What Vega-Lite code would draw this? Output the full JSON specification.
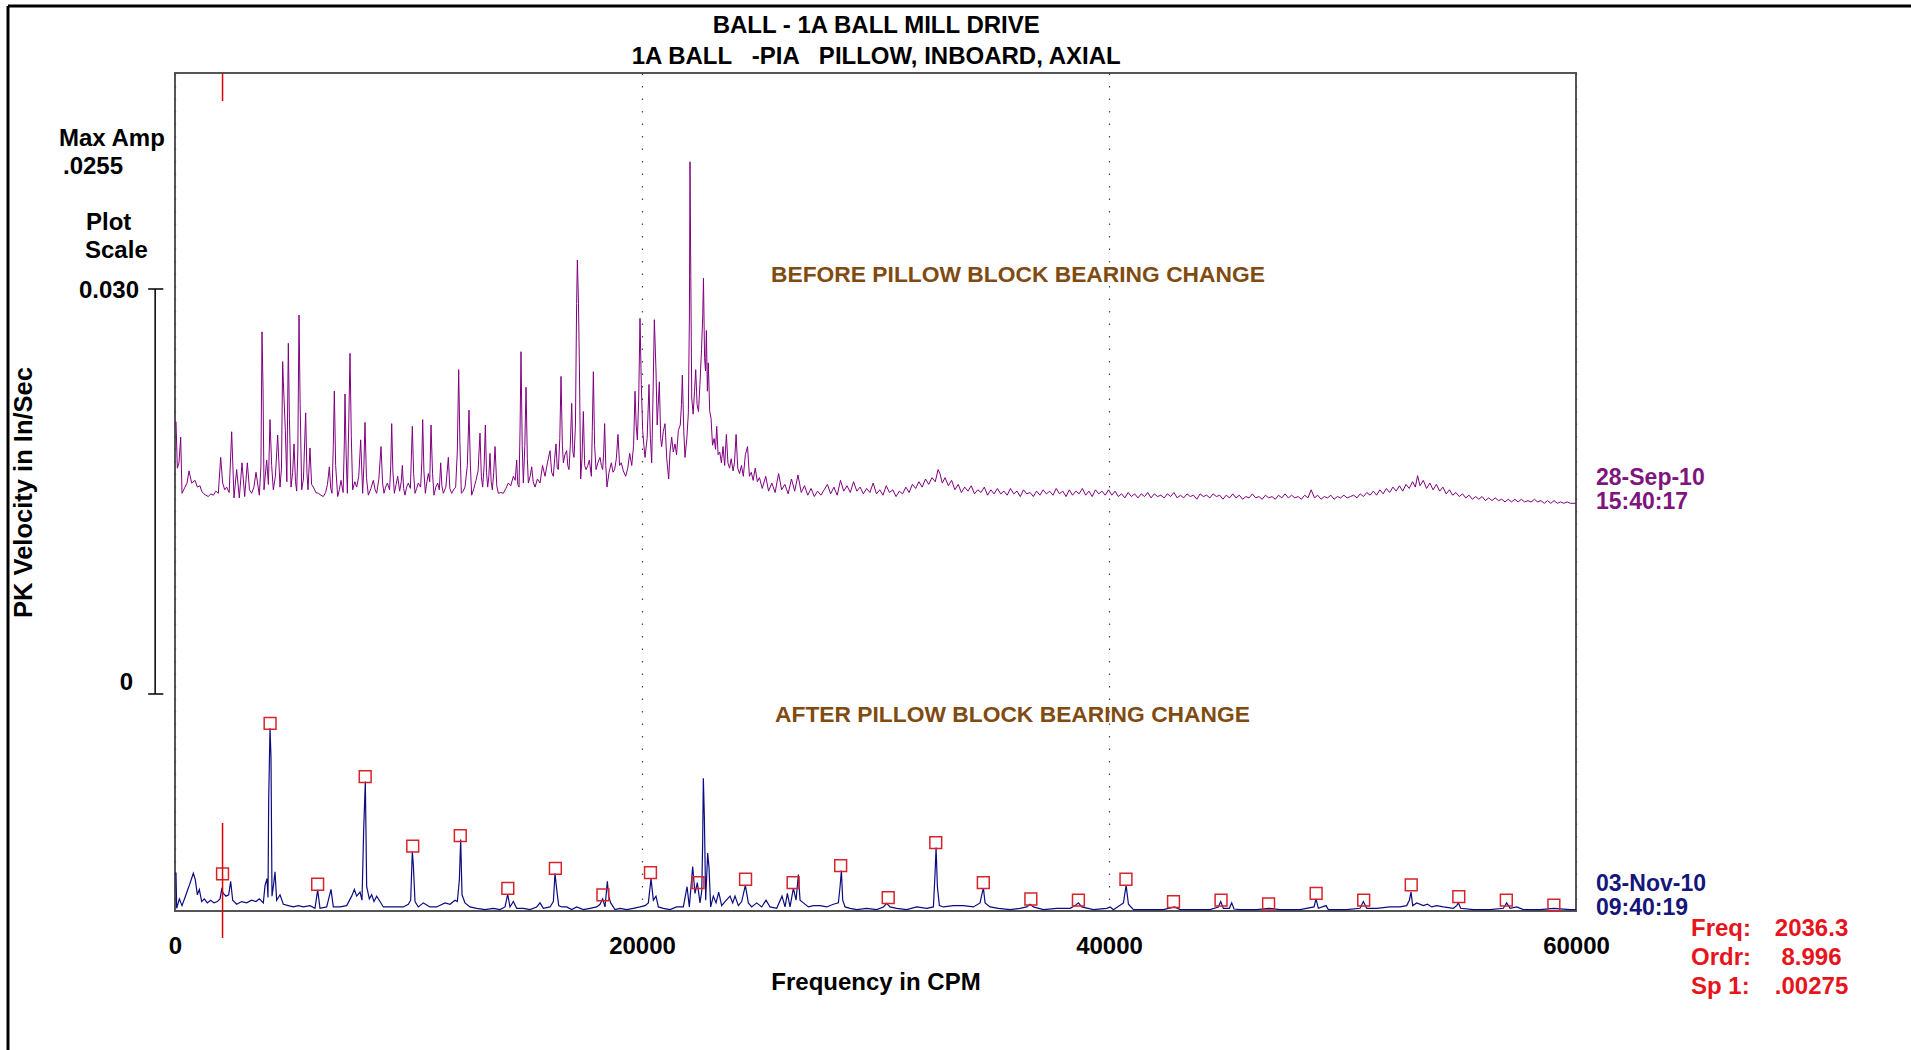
{
  "$schema": "https://vega.github.io/schema/vega-lite/v6.json",
  "width": 1401,
  "height": 838,
  "autosize": {"type": "none"},
  "padding": {"left": 175, "top": 73, "right": 335, "bottom": 139},
  "background": "white",
  "config": {
    "font": "Liberation Sans",
    "view": {"stroke": "#555555", "strokeWidth": 2},
    "text": {"font": "Liberation Sans", "fontSize": 24, "fontWeight": "bold", "baseline": "middle", "color": "black", "dy": 2},
    "axisX": {
      "grid": true,
      "gridDash": [1.5, 11],
      "gridColor": "#444444",
      "gridWidth": 1.2,
      "domain": false,
      "ticks": false,
      "tickCount": 3,
      "labelFont": "Liberation Sans",
      "labelFontSize": 24,
      "labelFontWeight": "bold",
      "labelColor": "black",
      "labelPadding": 35,
      "labelBaseline": "middle",
      "labelFlush": false,
      "labelOverlap": false,
      "titleFont": "Liberation Sans",
      "titleFontSize": 24,
      "titleFontWeight": "bold",
      "titleColor": "black",
      "titleY": 71,
      "titleBaseline": "middle"
    },
    "axisY": {"grid": false}
  },
  "datasets": {
    "before": [
      {"f": 0, "a": 0.0062}, {"f": 43, "a": 0.00625}, {"f": 100, "a": 0.0028}, {"f": 171, "a": 0.0032}, {"f": 243, "a": 0.0051}, {"f": 300, "a": 0.00094},
      {"f": 428, "a": 0.0014}, {"f": 514, "a": 0.0017}, {"f": 600, "a": 0.0026}, {"f": 714, "a": 0.0017}, {"f": 857, "a": 0.0019}, {"f": 960, "a": 0.0014},
      {"f": 1071, "a": 0.0015}, {"f": 1140, "a": 0.0011}, {"f": 1213, "a": 0.00094}, {"f": 1320, "a": 0.0008}, {"f": 1428, "a": 0.0007}, {"f": 1530, "a": 0.0009},
      {"f": 1642, "a": 0.0008}, {"f": 1750, "a": 0.0011}, {"f": 1856, "a": 0.00094}, {"f": 1956, "a": 0.0036}, {"f": 2041, "a": 0.0017}, {"f": 2130, "a": 0.0012},
      {"f": 2213, "a": 0.0014}, {"f": 2320, "a": 0.001}, {"f": 2427, "a": 0.0055}, {"f": 2527, "a": 0.0006}, {"f": 2641, "a": 0.0027}, {"f": 2755, "a": 0.0006},
      {"f": 2870, "a": 0.0032}, {"f": 2984, "a": 0.0007}, {"f": 3098, "a": 0.0032}, {"f": 3190, "a": 0.0012}, {"f": 3283, "a": 0.00094}, {"f": 3380, "a": 0.0014},
      {"f": 3469, "a": 0.0025}, {"f": 3612, "a": 0.0008}, {"f": 3680, "a": 0.0029}, {"f": 3726, "a": 0.0129}, {"f": 3770, "a": 0.0088}, {"f": 3812, "a": 0.0012},
      {"f": 3926, "a": 0.0034}, {"f": 4000, "a": 0.0016}, {"f": 4069, "a": 0.0064}, {"f": 4140, "a": 0.003}, {"f": 4211, "a": 0.0012}, {"f": 4300, "a": 0.0022},
      {"f": 4397, "a": 0.00526}, {"f": 4497, "a": 0.0014}, {"f": 4560, "a": 0.0028}, {"f": 4611, "a": 0.0107}, {"f": 4640, "a": 0.0092}, {"f": 4725, "a": 0.0056},
      {"f": 4790, "a": 0.0018}, {"f": 4854, "a": 0.01205}, {"f": 4900, "a": 0.0065}, {"f": 4968, "a": 0.0014}, {"f": 5040, "a": 0.0025}, {"f": 5097, "a": 0.0046},
      {"f": 5160, "a": 0.0018}, {"f": 5211, "a": 0.0011}, {"f": 5260, "a": 0.004}, {"f": 5311, "a": 0.01415}, {"f": 5360, "a": 0.0075}, {"f": 5425, "a": 0.0012},
      {"f": 5500, "a": 0.002}, {"f": 5596, "a": 0.0069}, {"f": 5650, "a": 0.0025}, {"f": 5696, "a": 0.0012}, {"f": 5782, "a": 0.0043}, {"f": 5850, "a": 0.0016},
      {"f": 5925, "a": 0.0014}, {"f": 6030, "a": 0.001}, {"f": 6139, "a": 0.00094}, {"f": 6250, "a": 0.0008}, {"f": 6353, "a": 0.0007}, {"f": 6450, "a": 0.001},
      {"f": 6530, "a": 0.0016}, {"f": 6610, "a": 0.0029}, {"f": 6670, "a": 0.0013}, {"f": 6724, "a": 0.00094}, {"f": 6780, "a": 0.0045}, {"f": 6824, "a": 0.0085},
      {"f": 6880, "a": 0.003}, {"f": 6967, "a": 0.0007}, {"f": 7040, "a": 0.0012}, {"f": 7110, "a": 0.0019}, {"f": 7200, "a": 0.001}, {"f": 7250, "a": 0.0045},
      {"f": 7281, "a": 0.0083}, {"f": 7330, "a": 0.0038}, {"f": 7381, "a": 0.00094}, {"f": 7440, "a": 0.006}, {"f": 7495, "a": 0.0113}, {"f": 7550, "a": 0.0052},
      {"f": 7609, "a": 0.0012}, {"f": 7700, "a": 0.0018}, {"f": 7781, "a": 0.0014}, {"f": 7870, "a": 0.0022}, {"f": 7952, "a": 0.0049}, {"f": 8037, "a": 0.00094},
      {"f": 8090, "a": 0.003}, {"f": 8137, "a": 0.0062}, {"f": 8200, "a": 0.0021}, {"f": 8280, "a": 0.0008}, {"f": 8390, "a": 0.0013}, {"f": 8494, "a": 0.0019},
      {"f": 8570, "a": 0.0012}, {"f": 8637, "a": 0.00094}, {"f": 8730, "a": 0.002}, {"f": 8823, "a": 0.0044}, {"f": 8890, "a": 0.0017}, {"f": 8951, "a": 0.00094},
      {"f": 9020, "a": 0.0014}, {"f": 9094, "a": 0.0017}, {"f": 9190, "a": 0.0012}, {"f": 9240, "a": 0.003}, {"f": 9280, "a": 0.0061}, {"f": 9330, "a": 0.0026},
      {"f": 9394, "a": 0.00094}, {"f": 9470, "a": 0.0016}, {"f": 9537, "a": 0.0022}, {"f": 9620, "a": 0.0011}, {"f": 9690, "a": 0.0018}, {"f": 9736, "a": 0.003},
      {"f": 9790, "a": 0.0013}, {"f": 9850, "a": 0.0008}, {"f": 9920, "a": 0.0014}, {"f": 9993, "a": 0.0017}, {"f": 10080, "a": 0.0013}, {"f": 10164, "a": 0.0059},
      {"f": 10220, "a": 0.0024}, {"f": 10279, "a": 0.00094}, {"f": 10350, "a": 0.0013}, {"f": 10421, "a": 0.0017}, {"f": 10520, "a": 0.0014}, {"f": 10570, "a": 0.0032},
      {"f": 10607, "a": 0.0064}, {"f": 10660, "a": 0.0026}, {"f": 10721, "a": 0.00094}, {"f": 10790, "a": 0.0018}, {"f": 10850, "a": 0.0024}, {"f": 10910, "a": 0.0018},
      {"f": 10964, "a": 0.006}, {"f": 11030, "a": 0.0024}, {"f": 11092, "a": 0.0008}, {"f": 11170, "a": 0.0014}, {"f": 11249, "a": 0.0017}, {"f": 11320, "a": 0.0012},
      {"f": 11378, "a": 0.0032}, {"f": 11430, "a": 0.0015}, {"f": 11492, "a": 0.00094}, {"f": 11600, "a": 0.0014}, {"f": 11706, "a": 0.0036}, {"f": 11770, "a": 0.0013},
      {"f": 11849, "a": 0.00094}, {"f": 11930, "a": 0.0012}, {"f": 12020, "a": 0.0014}, {"f": 12090, "a": 0.004}, {"f": 12149, "a": 0.0101}, {"f": 12200, "a": 0.0048},
      {"f": 12263, "a": 0.00094}, {"f": 12340, "a": 0.0011}, {"f": 12420, "a": 0.0014}, {"f": 12520, "a": 0.003}, {"f": 12591, "a": 0.0071}, {"f": 12650, "a": 0.003},
      {"f": 12705, "a": 0.0008}, {"f": 12800, "a": 0.0013}, {"f": 12891, "a": 0.0019}, {"f": 12980, "a": 0.0026}, {"f": 13062, "a": 0.0054}, {"f": 13120, "a": 0.0022},
      {"f": 13176, "a": 0.0014}, {"f": 13240, "a": 0.003}, {"f": 13291, "a": 0.006}, {"f": 13340, "a": 0.0025}, {"f": 13391, "a": 0.0014}, {"f": 13440, "a": 0.0022},
      {"f": 13491, "a": 0.0039}, {"f": 13540, "a": 0.0018}, {"f": 13591, "a": 0.0012}, {"f": 13650, "a": 0.0025}, {"f": 13706, "a": 0.0044}, {"f": 13780, "a": 0.0015},
      {"f": 13848, "a": 0.00094}, {"f": 13950, "a": 0.001}, {"f": 14062, "a": 0.00094}, {"f": 14170, "a": 0.0013}, {"f": 14276, "a": 0.0017}, {"f": 14380, "a": 0.0015},
      {"f": 14490, "a": 0.0022}, {"f": 14570, "a": 0.0019}, {"f": 14633, "a": 0.0034}, {"f": 14680, "a": 0.0016}, {"f": 14733, "a": 0.0014}, {"f": 14780, "a": 0.006},
      {"f": 14818, "a": 0.01143}, {"f": 14870, "a": 0.0045}, {"f": 14918, "a": 0.0017}, {"f": 14980, "a": 0.0044}, {"f": 15033, "a": 0.0088}, {"f": 15090, "a": 0.0035},
      {"f": 15133, "a": 0.0017}, {"f": 15210, "a": 0.0022}, {"f": 15276, "a": 0.0029}, {"f": 15340, "a": 0.0018}, {"f": 15421, "a": 0.0014}, {"f": 15520, "a": 0.002},
      {"f": 15633, "a": 0.0017}, {"f": 15740, "a": 0.003}, {"f": 15846, "a": 0.0022}, {"f": 15950, "a": 0.0032}, {"f": 16061, "a": 0.0041}, {"f": 16130, "a": 0.0025},
      {"f": 16203, "a": 0.0022}, {"f": 16260, "a": 0.0035}, {"f": 16317, "a": 0.0046}, {"f": 16370, "a": 0.0028}, {"f": 16417, "a": 0.0027}, {"f": 16480, "a": 0.005},
      {"f": 16532, "a": 0.0096}, {"f": 16590, "a": 0.0045}, {"f": 16632, "a": 0.0032}, {"f": 16700, "a": 0.0038}, {"f": 16774, "a": 0.0041}, {"f": 16820, "a": 0.003},
      {"f": 16874, "a": 0.0027}, {"f": 16930, "a": 0.0045}, {"f": 16989, "a": 0.0076}, {"f": 17040, "a": 0.004}, {"f": 17089, "a": 0.0036}, {"f": 17150, "a": 0.006},
      {"f": 17200, "a": 0.015}, {"f": 17232, "a": 0.01822}, {"f": 17280, "a": 0.015}, {"f": 17317, "a": 0.0106}, {"f": 17374, "a": 0.002}, {"f": 17430, "a": 0.0035},
      {"f": 17488, "a": 0.007}, {"f": 17545, "a": 0.003}, {"f": 17602, "a": 0.0027}, {"f": 17680, "a": 0.003}, {"f": 17745, "a": 0.0034}, {"f": 17831, "a": 0.0022},
      {"f": 17870, "a": 0.0055}, {"f": 17917, "a": 0.00995}, {"f": 17970, "a": 0.0045}, {"f": 18031, "a": 0.0027}, {"f": 18110, "a": 0.0032}, {"f": 18202, "a": 0.0036},
      {"f": 18260, "a": 0.003}, {"f": 18316, "a": 0.0027}, {"f": 18360, "a": 0.004}, {"f": 18400, "a": 0.0061}, {"f": 18450, "a": 0.003}, {"f": 18500, "a": 0.0014},
      {"f": 18590, "a": 0.0025}, {"f": 18686, "a": 0.0032}, {"f": 18760, "a": 0.0025}, {"f": 18828, "a": 0.0027}, {"f": 18900, "a": 0.0035}, {"f": 18971, "a": 0.0053},
      {"f": 19040, "a": 0.003}, {"f": 19114, "a": 0.0032}, {"f": 19200, "a": 0.0026}, {"f": 19300, "a": 0.0022}, {"f": 19390, "a": 0.0028}, {"f": 19472, "a": 0.0039},
      {"f": 19560, "a": 0.003}, {"f": 19640, "a": 0.0045}, {"f": 19701, "a": 0.0085}, {"f": 19750, "a": 0.006}, {"f": 19801, "a": 0.0049}, {"f": 19860, "a": 0.008},
      {"f": 19915, "a": 0.0139}, {"f": 19970, "a": 0.009}, {"f": 20029, "a": 0.0056}, {"f": 20080, "a": 0.0045}, {"f": 20129, "a": 0.0036}, {"f": 20220, "a": 0.005},
      {"f": 20300, "a": 0.009}, {"f": 20360, "a": 0.005}, {"f": 20415, "a": 0.0032}, {"f": 20470, "a": 0.008}, {"f": 20529, "a": 0.0138}, {"f": 20600, "a": 0.01},
      {"f": 20650, "a": 0.006}, {"f": 20743, "a": 0.0092}, {"f": 20800, "a": 0.005}, {"f": 20843, "a": 0.0044}, {"f": 20910, "a": 0.0055}, {"f": 20986, "a": 0.0061},
      {"f": 21060, "a": 0.0035}, {"f": 21143, "a": 0.002}, {"f": 21200, "a": 0.004}, {"f": 21271, "a": 0.0051}, {"f": 21340, "a": 0.004}, {"f": 21414, "a": 0.0046},
      {"f": 21480, "a": 0.0038}, {"f": 21557, "a": 0.0056}, {"f": 21640, "a": 0.006}, {"f": 21690, "a": 0.0075}, {"f": 21728, "a": 0.0097}, {"f": 21790, "a": 0.0055},
      {"f": 21842, "a": 0.0036}, {"f": 21920, "a": 0.005}, {"f": 21985, "a": 0.0069}, {"f": 22030, "a": 0.014}, {"f": 22056, "a": 0.0255}, {"f": 22090, "a": 0.017},
      {"f": 22130, "a": 0.008}, {"f": 22190, "a": 0.0068}, {"f": 22250, "a": 0.0085}, {"f": 22300, "a": 0.0101}, {"f": 22360, "a": 0.0075}, {"f": 22420, "a": 0.007},
      {"f": 22480, "a": 0.009}, {"f": 22550, "a": 0.0116}, {"f": 22600, "a": 0.014}, {"f": 22632, "a": 0.01686}, {"f": 22680, "a": 0.011}, {"f": 22720, "a": 0.01},
      {"f": 22757, "a": 0.013}, {"f": 22800, "a": 0.0085}, {"f": 22840, "a": 0.0106}, {"f": 22900, "a": 0.007}, {"f": 22957, "a": 0.0065}, {"f": 23020, "a": 0.0045},
      {"f": 23090, "a": 0.005}, {"f": 23150, "a": 0.0042}, {"f": 23200, "a": 0.0059}, {"f": 23260, "a": 0.0038}, {"f": 23330, "a": 0.004}, {"f": 23400, "a": 0.0032},
      {"f": 23470, "a": 0.0044}, {"f": 23540, "a": 0.003}, {"f": 23614, "a": 0.0053}, {"f": 23680, "a": 0.0032}, {"f": 23750, "a": 0.0028}, {"f": 23820, "a": 0.0035},
      {"f": 23900, "a": 0.0026}, {"f": 23960, "a": 0.0032}, {"f": 24030, "a": 0.0053}, {"f": 24100, "a": 0.0028}, {"f": 24180, "a": 0.0024}, {"f": 24260, "a": 0.003},
      {"f": 24340, "a": 0.0022}, {"f": 24427, "a": 0.0038}, {"f": 24520, "a": 0.0044}, {"f": 24600, "a": 0.0022}, {"f": 24680, "a": 0.0025}, {"f": 24760, "a": 0.0019},
      {"f": 24850, "a": 0.0028}, {"f": 24940, "a": 0.0018}, {"f": 25030, "a": 0.0021}, {"f": 25150, "a": 0.0013}, {"f": 25300, "a": 0.0022}, {"f": 25420, "a": 0.0011},
      {"f": 25560, "a": 0.0017}, {"f": 25700, "a": 0.001}, {"f": 25850, "a": 0.0024}, {"f": 25980, "a": 0.0012}, {"f": 26120, "a": 0.0016}, {"f": 26260, "a": 0.0009},
      {"f": 26400, "a": 0.002}, {"f": 26540, "a": 0.0011}, {"f": 26680, "a": 0.0023}, {"f": 26820, "a": 0.001}, {"f": 26960, "a": 0.0015}, {"f": 27100, "a": 0.0008},
      {"f": 27240, "a": 0.0013}, {"f": 27380, "a": 0.0007}, {"f": 27520, "a": 0.0011}, {"f": 27660, "a": 0.0008}, {"f": 27800, "a": 0.0012}, {"f": 27940, "a": 0.0016},
      {"f": 28080, "a": 0.0009}, {"f": 28220, "a": 0.0014}, {"f": 28360, "a": 0.0008}, {"f": 28500, "a": 0.0019}, {"f": 28640, "a": 0.0011}, {"f": 28780, "a": 0.0015},
      {"f": 28920, "a": 0.001}, {"f": 29060, "a": 0.0018}, {"f": 29200, "a": 0.0011}, {"f": 29340, "a": 0.0014}, {"f": 29480, "a": 0.0009}, {"f": 29620, "a": 0.0013},
      {"f": 29760, "a": 0.001}, {"f": 29900, "a": 0.0017}, {"f": 30040, "a": 0.0009}, {"f": 30180, "a": 0.0012}, {"f": 30320, "a": 0.0008}, {"f": 30460, "a": 0.0015},
      {"f": 30600, "a": 0.001}, {"f": 30740, "a": 0.0012}, {"f": 30880, "a": 0.0007}, {"f": 31020, "a": 0.0011}, {"f": 31160, "a": 0.0009}, {"f": 31300, "a": 0.0014},
      {"f": 31440, "a": 0.001}, {"f": 31580, "a": 0.0016}, {"f": 31720, "a": 0.0013}, {"f": 31860, "a": 0.0018}, {"f": 32000, "a": 0.0014}, {"f": 32140, "a": 0.002},
      {"f": 32280, "a": 0.0016}, {"f": 32420, "a": 0.0021}, {"f": 32560, "a": 0.0018}, {"f": 32680, "a": 0.0027}, {"f": 32760, "a": 0.0024}, {"f": 32860, "a": 0.0017},
      {"f": 32980, "a": 0.0021}, {"f": 33120, "a": 0.0015}, {"f": 33260, "a": 0.0019}, {"f": 33400, "a": 0.0012}, {"f": 33540, "a": 0.0016}, {"f": 33680, "a": 0.001},
      {"f": 33820, "a": 0.0014}, {"f": 33960, "a": 0.0011}, {"f": 34100, "a": 0.0015}, {"f": 34240, "a": 0.0009}, {"f": 34380, "a": 0.0012}, {"f": 34520, "a": 0.001},
      {"f": 34660, "a": 0.0014}, {"f": 34800, "a": 0.0008}, {"f": 34940, "a": 0.0012}, {"f": 35080, "a": 0.0009}, {"f": 35220, "a": 0.0013}, {"f": 35360, "a": 0.0009},
      {"f": 35500, "a": 0.0011}, {"f": 35640, "a": 0.0008}, {"f": 35780, "a": 0.0013}, {"f": 35920, "a": 0.0009}, {"f": 36060, "a": 0.0011}, {"f": 36200, "a": 0.0007},
      {"f": 36340, "a": 0.0012}, {"f": 36480, "a": 0.0009}, {"f": 36620, "a": 0.001}, {"f": 36760, "a": 0.0007}, {"f": 36900, "a": 0.0011}, {"f": 37040, "a": 0.0008},
      {"f": 37180, "a": 0.0012}, {"f": 37320, "a": 0.0009}, {"f": 37460, "a": 0.0011}, {"f": 37600, "a": 0.0008}, {"f": 37740, "a": 0.0013}, {"f": 37880, "a": 0.0009},
      {"f": 38020, "a": 0.0011}, {"f": 38160, "a": 0.0007}, {"f": 38300, "a": 0.0012}, {"f": 38440, "a": 0.0008}, {"f": 38580, "a": 0.0011}, {"f": 38720, "a": 0.0009},
      {"f": 38860, "a": 0.0013}, {"f": 39000, "a": 0.0008}, {"f": 39140, "a": 0.0011}, {"f": 39280, "a": 0.0007}, {"f": 39420, "a": 0.0012}, {"f": 39560, "a": 0.0009},
      {"f": 39700, "a": 0.0011}, {"f": 39840, "a": 0.0008}, {"f": 39980, "a": 0.0012}, {"f": 40120, "a": 0.0008}, {"f": 40260, "a": 0.0011}, {"f": 40400, "a": 0.0007},
      {"f": 40540, "a": 0.0009}, {"f": 40680, "a": 0.0006}, {"f": 40820, "a": 0.001}, {"f": 40960, "a": 0.0007}, {"f": 41100, "a": 0.0009}, {"f": 41240, "a": 0.0006},
      {"f": 41380, "a": 0.0009}, {"f": 41520, "a": 0.0007}, {"f": 41660, "a": 0.001}, {"f": 41800, "a": 0.0006}, {"f": 41940, "a": 0.0009}, {"f": 42080, "a": 0.0007},
      {"f": 42220, "a": 0.0008}, {"f": 42360, "a": 0.0006}, {"f": 42500, "a": 0.0009}, {"f": 42640, "a": 0.0007}, {"f": 42780, "a": 0.001}, {"f": 42920, "a": 0.0006},
      {"f": 43060, "a": 0.0008}, {"f": 43200, "a": 0.0006}, {"f": 43340, "a": 0.0009}, {"f": 43480, "a": 0.0007}, {"f": 43620, "a": 0.0008}, {"f": 43760, "a": 0.0005},
      {"f": 43900, "a": 0.0009}, {"f": 44040, "a": 0.0007}, {"f": 44180, "a": 0.0008}, {"f": 44320, "a": 0.0006}, {"f": 44460, "a": 0.0009}, {"f": 44600, "a": 0.0007},
      {"f": 44740, "a": 0.0008}, {"f": 44880, "a": 0.0005}, {"f": 45020, "a": 0.0008}, {"f": 45160, "a": 0.0006}, {"f": 45300, "a": 0.0009}, {"f": 45440, "a": 0.0006},
      {"f": 45580, "a": 0.0008}, {"f": 45720, "a": 0.0005}, {"f": 45860, "a": 0.0007}, {"f": 46000, "a": 0.0006}, {"f": 46140, "a": 0.0009}, {"f": 46280, "a": 0.0006},
      {"f": 46420, "a": 0.0007}, {"f": 46560, "a": 0.0005}, {"f": 46700, "a": 0.0008}, {"f": 46840, "a": 0.0006}, {"f": 46980, "a": 0.0007}, {"f": 47120, "a": 0.0005},
      {"f": 47260, "a": 0.0008}, {"f": 47400, "a": 0.0006}, {"f": 47540, "a": 0.0009}, {"f": 47680, "a": 0.0006}, {"f": 47820, "a": 0.0008}, {"f": 47960, "a": 0.0006},
      {"f": 48100, "a": 0.0007}, {"f": 48240, "a": 0.0005}, {"f": 48380, "a": 0.0008}, {"f": 48520, "a": 0.0006}, {"f": 48660, "a": 0.0012}, {"f": 48800, "a": 0.0006},
      {"f": 48940, "a": 0.0008}, {"f": 49080, "a": 0.0005}, {"f": 49220, "a": 0.0007}, {"f": 49360, "a": 0.0006}, {"f": 49500, "a": 0.0008}, {"f": 49640, "a": 0.0005},
      {"f": 49780, "a": 0.0007}, {"f": 49920, "a": 0.0006}, {"f": 50060, "a": 0.0008}, {"f": 50200, "a": 0.0006}, {"f": 50340, "a": 0.0007}, {"f": 50480, "a": 0.0008},
      {"f": 50620, "a": 0.0006}, {"f": 50760, "a": 0.0009}, {"f": 50900, "a": 0.0007}, {"f": 51040, "a": 0.001}, {"f": 51180, "a": 0.0008}, {"f": 51320, "a": 0.0011},
      {"f": 51460, "a": 0.0008}, {"f": 51600, "a": 0.0012}, {"f": 51740, "a": 0.0009}, {"f": 51880, "a": 0.0013}, {"f": 52020, "a": 0.001}, {"f": 52160, "a": 0.0014},
      {"f": 52300, "a": 0.0011}, {"f": 52440, "a": 0.0015}, {"f": 52580, "a": 0.0011}, {"f": 52720, "a": 0.0016}, {"f": 52860, "a": 0.0013}, {"f": 53000, "a": 0.0018},
      {"f": 53120, "a": 0.0014}, {"f": 53215, "a": 0.00225}, {"f": 53320, "a": 0.0015}, {"f": 53460, "a": 0.0019}, {"f": 53600, "a": 0.0013}, {"f": 53740, "a": 0.0017},
      {"f": 53880, "a": 0.0012}, {"f": 54020, "a": 0.0016}, {"f": 54160, "a": 0.0011}, {"f": 54300, "a": 0.0014}, {"f": 54440, "a": 0.0009}, {"f": 54580, "a": 0.0012},
      {"f": 54720, "a": 0.0008}, {"f": 54860, "a": 0.001}, {"f": 55000, "a": 0.0007}, {"f": 55140, "a": 0.0009}, {"f": 55280, "a": 0.0006}, {"f": 55420, "a": 0.0008},
      {"f": 55560, "a": 0.0005}, {"f": 55700, "a": 0.0007}, {"f": 55840, "a": 0.0005}, {"f": 55980, "a": 0.0007}, {"f": 56120, "a": 0.0004}, {"f": 56260, "a": 0.0006},
      {"f": 56400, "a": 0.0004}, {"f": 56540, "a": 0.0006}, {"f": 56680, "a": 0.0004}, {"f": 56820, "a": 0.0005}, {"f": 56960, "a": 0.0003}, {"f": 57100, "a": 0.0005},
      {"f": 57240, "a": 0.0003}, {"f": 57380, "a": 0.0005}, {"f": 57520, "a": 0.0003}, {"f": 57660, "a": 0.0005}, {"f": 57800, "a": 0.0003}, {"f": 57940, "a": 0.0004},
      {"f": 58080, "a": 0.0003}, {"f": 58220, "a": 0.0005}, {"f": 58360, "a": 0.0003}, {"f": 58500, "a": 0.0004}, {"f": 58640, "a": 0.0002}, {"f": 58780, "a": 0.0004},
      {"f": 58920, "a": 0.0002}, {"f": 59060, "a": 0.0004}, {"f": 59200, "a": 0.0002}, {"f": 59340, "a": 0.0003}, {"f": 59480, "a": 0.0002}, {"f": 59620, "a": 0.0003},
      {"f": 59760, "a": 0.0002}, {"f": 60000, "a": 0.0002}
    ],
    "after": [
      {"f": 0, "a": 0.0028}, {"f": 43, "a": 0.0028}, {"f": 71, "a": 0.0002}, {"f": 186, "a": 0.0009}, {"f": 300, "a": 0.0004}, {"f": 471, "a": 0.0012},
      {"f": 571, "a": 0.0017}, {"f": 614, "a": 0.0019}, {"f": 728, "a": 0.0025}, {"f": 785, "a": 0.0028}, {"f": 871, "a": 0.0023}, {"f": 957, "a": 0.0012},
      {"f": 1042, "a": 0.0016}, {"f": 1142, "a": 0.0007}, {"f": 1256, "a": 0.0009}, {"f": 1385, "a": 0.0006}, {"f": 1527, "a": 0.0008}, {"f": 1670, "a": 0.0006},
      {"f": 1813, "a": 0.0007}, {"f": 1927, "a": 0.0009}, {"f": 1999, "a": 0.0016}, {"f": 2070, "a": 0.0013}, {"f": 2184, "a": 0.0011}, {"f": 2298, "a": 0.0012},
      {"f": 2384, "a": 0.0022}, {"f": 2470, "a": 0.0008}, {"f": 2641, "a": 0.0005}, {"f": 2855, "a": 0.0007}, {"f": 3069, "a": 0.0006}, {"f": 3283, "a": 0.0008},
      {"f": 3469, "a": 0.0007}, {"f": 3612, "a": 0.0009}, {"f": 3783, "a": 0.0006}, {"f": 3855, "a": 0.0019}, {"f": 3940, "a": 0.0024}, {"f": 3983, "a": 0.001},
      {"f": 4012, "a": 0.0082}, {"f": 4069, "a": 0.01353}, {"f": 4111, "a": 0.0114}, {"f": 4154, "a": 0.0011}, {"f": 4211, "a": 0.0018}, {"f": 4283, "a": 0.0029},
      {"f": 4354, "a": 0.0008}, {"f": 4497, "a": 0.0012}, {"f": 4640, "a": 0.0005}, {"f": 4854, "a": 0.0004}, {"f": 5068, "a": 0.0003}, {"f": 5282, "a": 0.0004},
      {"f": 5496, "a": 0.0003}, {"f": 5782, "a": 0.0004}, {"f": 5996, "a": 0.0002}, {"f": 6110, "a": 0.00156}, {"f": 6210, "a": 0.0002}, {"f": 6496, "a": 0.0003},
      {"f": 6681, "a": 0.0016}, {"f": 6781, "a": 0.0003}, {"f": 7067, "a": 0.0003}, {"f": 7352, "a": 0.0004}, {"f": 7566, "a": 0.0011}, {"f": 7681, "a": 0.0016},
      {"f": 7781, "a": 0.0011}, {"f": 7923, "a": 0.0014}, {"f": 8009, "a": 0.0008}, {"f": 8080, "a": 0.006}, {"f": 8151, "a": 0.0096}, {"f": 8209, "a": 0.0018},
      {"f": 8323, "a": 0.0009}, {"f": 8423, "a": 0.0012}, {"f": 8523, "a": 0.0007}, {"f": 8637, "a": 0.0011}, {"f": 8780, "a": 0.0007}, {"f": 8923, "a": 0.0003},
      {"f": 9208, "a": 0.0003}, {"f": 9494, "a": 0.0003}, {"f": 9779, "a": 0.0003}, {"f": 9993, "a": 0.0005}, {"f": 10093, "a": 0.0008}, {"f": 10164, "a": 0.0044},
      {"f": 10207, "a": 0.0034}, {"f": 10279, "a": 0.0007}, {"f": 10421, "a": 0.0003}, {"f": 10636, "a": 0.0006}, {"f": 10921, "a": 0.0003}, {"f": 11207, "a": 0.0003},
      {"f": 11563, "a": 0.0006}, {"f": 11778, "a": 0.0005}, {"f": 11992, "a": 0.0008}, {"f": 12092, "a": 0.0007}, {"f": 12178, "a": 0.0023}, {"f": 12235, "a": 0.0053},
      {"f": 12292, "a": 0.0012}, {"f": 12420, "a": 0.0006}, {"f": 12634, "a": 0.0003}, {"f": 12920, "a": 0.0002}, {"f": 13277, "a": 0.0001}, {"f": 13633, "a": 0.0002},
      {"f": 13919, "a": 0.0001}, {"f": 14133, "a": 0.0003}, {"f": 14247, "a": 0.00124}, {"f": 14347, "a": 0.0003}, {"f": 14490, "a": 0.0007}, {"f": 14633, "a": 0.0002},
      {"f": 14918, "a": 0.0002}, {"f": 15204, "a": 0.0001}, {"f": 15489, "a": 0.0003}, {"f": 15632, "a": 0.0006}, {"f": 15775, "a": 0.0002}, {"f": 16061, "a": 0.0003},
      {"f": 16204, "a": 0.0007}, {"f": 16275, "a": 0.0028}, {"f": 16347, "a": 0.0016}, {"f": 16432, "a": 0.0004}, {"f": 16561, "a": 0.0003}, {"f": 16775, "a": 0.0003},
      {"f": 16989, "a": 0.0001}, {"f": 17203, "a": 0.0003}, {"f": 17488, "a": 0.0001}, {"f": 17774, "a": 0.0002}, {"f": 18059, "a": 0.0003}, {"f": 18202, "a": 0.0005},
      {"f": 18316, "a": 0.0009}, {"f": 18416, "a": 0.0003}, {"f": 18516, "a": 0.0022}, {"f": 18573, "a": 0.0011}, {"f": 18659, "a": 0.0006}, {"f": 18845, "a": 0.0001},
      {"f": 19059, "a": 0.0002}, {"f": 19344, "a": 0.0001}, {"f": 19630, "a": 0.0002}, {"f": 19915, "a": 0.0003}, {"f": 20129, "a": 0.0004}, {"f": 20272, "a": 0.0006},
      {"f": 20386, "a": 0.0024}, {"f": 20486, "a": 0.0008}, {"f": 20600, "a": 0.0011}, {"f": 20700, "a": 0.0003}, {"f": 20914, "a": 0.0002}, {"f": 21199, "a": 0.0001},
      {"f": 21485, "a": 0.0003}, {"f": 21771, "a": 0.0003}, {"f": 21930, "a": 0.0018}, {"f": 22027, "a": 0.0003}, {"f": 22170, "a": 0.0033}, {"f": 22270, "a": 0.0013},
      {"f": 22370, "a": 0.0021}, {"f": 22484, "a": 0.0006}, {"f": 22560, "a": 0.0015}, {"f": 22598, "a": 0.0051}, {"f": 22627, "a": 0.00983}, {"f": 22670, "a": 0.007},
      {"f": 22727, "a": 0.0008}, {"f": 22813, "a": 0.0043}, {"f": 22870, "a": 0.0032}, {"f": 22941, "a": 0.0003}, {"f": 23055, "a": 0.0011}, {"f": 23170, "a": 0.0006},
      {"f": 23284, "a": 0.0014}, {"f": 23413, "a": 0.0004}, {"f": 23556, "a": 0.0007}, {"f": 23770, "a": 0.0011}, {"f": 23884, "a": 0.0006}, {"f": 23984, "a": 0.0011},
      {"f": 24126, "a": 0.0004}, {"f": 24269, "a": 0.0007}, {"f": 24426, "a": 0.0019}, {"f": 24555, "a": 0.0006}, {"f": 24698, "a": 0.0003}, {"f": 24912, "a": 0.0006},
      {"f": 25126, "a": 0.0003}, {"f": 25312, "a": 0.0008}, {"f": 25483, "a": 0.0003}, {"f": 25769, "a": 0.0002}, {"f": 25997, "a": 0.0011}, {"f": 26126, "a": 0.0003},
      {"f": 26226, "a": 0.0013}, {"f": 26340, "a": 0.0003}, {"f": 26483, "a": 0.0017}, {"f": 26597, "a": 0.0008}, {"f": 26697, "a": 0.0027}, {"f": 26769, "a": 0.0008},
      {"f": 26911, "a": 0.0006}, {"f": 27126, "a": 0.0003}, {"f": 27340, "a": 0.0004}, {"f": 27625, "a": 0.0004}, {"f": 27911, "a": 0.0003}, {"f": 28196, "a": 0.0005},
      {"f": 28410, "a": 0.0006}, {"f": 28482, "a": 0.0018}, {"f": 28539, "a": 0.003}, {"f": 28596, "a": 0.0008}, {"f": 28696, "a": 0.0003}, {"f": 28910, "a": 0.0002},
      {"f": 29196, "a": 0.0001}, {"f": 29624, "a": 0.0002}, {"f": 30052, "a": 0.0001}, {"f": 30338, "a": 0.0003}, {"f": 30480, "a": 0.00057}, {"f": 30623, "a": 0.0003},
      {"f": 30909, "a": 0.0002}, {"f": 31337, "a": 0.0001}, {"f": 31765, "a": 0.0003}, {"f": 32194, "a": 0.0002}, {"f": 32479, "a": 0.0003}, {"f": 32551, "a": 0.0028},
      {"f": 32594, "a": 0.0047}, {"f": 32651, "a": 0.0018}, {"f": 32736, "a": 0.0004}, {"f": 32908, "a": 0.0003}, {"f": 33336, "a": 0.0004}, {"f": 33764, "a": 0.0004},
      {"f": 34193, "a": 0.0003}, {"f": 34478, "a": 0.0006}, {"f": 34550, "a": 0.0012}, {"f": 34621, "a": 0.0017}, {"f": 34693, "a": 0.0006}, {"f": 34907, "a": 0.0003},
      {"f": 35264, "a": 0.0002}, {"f": 35764, "a": 0.0001}, {"f": 36192, "a": 0.0002}, {"f": 36477, "a": 0.0003}, {"f": 36620, "a": 0.0005}, {"f": 36763, "a": 0.0003},
      {"f": 37191, "a": 0.0001}, {"f": 37762, "a": 0.0002}, {"f": 38333, "a": 0.0002}, {"f": 38547, "a": 0.0004}, {"f": 38690, "a": 0.0006}, {"f": 38833, "a": 0.0003},
      {"f": 39333, "a": 0.0001}, {"f": 39904, "a": 0.0002}, {"f": 40047, "a": 0.0003}, {"f": 40190, "a": 0.0001}, {"f": 40618, "a": 0.0006}, {"f": 40733, "a": 0.0019},
      {"f": 40833, "a": 0.0005}, {"f": 41047, "a": 0.0001}, {"f": 41761, "a": 0.0001}, {"f": 42332, "a": 0.0001}, {"f": 42803, "a": 0.0003}, {"f": 43046, "a": 0.0001},
      {"f": 43469, "a": 0.0001}, {"f": 44326, "a": 0.0001}, {"f": 44683, "a": 0.0003}, {"f": 44783, "a": 0.0007}, {"f": 44897, "a": 0.0002}, {"f": 45154, "a": 0.0002},
      {"f": 45254, "a": 0.0006}, {"f": 45354, "a": 0.00015}, {"f": 45611, "a": 0.0001}, {"f": 46325, "a": 0.0001}, {"f": 46839, "a": 0.0002}, {"f": 47324, "a": 0.0001},
      {"f": 48181, "a": 0.0001}, {"f": 48780, "a": 0.0003}, {"f": 48866, "a": 0.0009}, {"f": 48966, "a": 0.0002}, {"f": 49294, "a": 0.0004}, {"f": 49394, "a": 0.0001},
      {"f": 50179, "a": 0.0001}, {"f": 50750, "a": 0.0002}, {"f": 50893, "a": 0.0007}, {"f": 51036, "a": 0.0002}, {"f": 51464, "a": 0.0002}, {"f": 52035, "a": 0.0003},
      {"f": 52464, "a": 0.0003}, {"f": 52749, "a": 0.0004}, {"f": 52863, "a": 0.0008}, {"f": 52935, "a": 0.0014}, {"f": 53006, "a": 0.0004}, {"f": 53178, "a": 0.0006},
      {"f": 53463, "a": 0.0004}, {"f": 53635, "a": 0.0005}, {"f": 53820, "a": 0.0003}, {"f": 54034, "a": 0.0004}, {"f": 54320, "a": 0.0003}, {"f": 54748, "a": 0.0002},
      {"f": 54891, "a": 0.0004}, {"f": 54962, "a": 0.0006}, {"f": 55062, "a": 0.0002}, {"f": 55604, "a": 0.0001}, {"f": 56318, "a": 0.0001}, {"f": 56889, "a": 0.0002},
      {"f": 57032, "a": 0.0006}, {"f": 57175, "a": 0.0002}, {"f": 57460, "a": 0.0003}, {"f": 57746, "a": 0.0001}, {"f": 58460, "a": 0.0001}, {"f": 59058, "a": 0.0002},
      {"f": 59743, "a": 0.0001}, {"f": 60000, "a": 0.0001}
    ],
    "orders": [
      {"n": 1, "f": 2036.3, "a": 0.00275}, {"n": 2, "f": 4072.6, "a": 0.0139}, {"n": 3, "f": 6108.9, "a": 0.00198}, {"n": 4, "f": 8145.2, "a": 0.00995},
      {"n": 5, "f": 10181.5, "a": 0.00481}, {"n": 6, "f": 12217.8, "a": 0.00558}, {"n": 7, "f": 14254.1, "a": 0.00168}, {"n": 8, "f": 16290.4, "a": 0.00316},
      {"n": 9, "f": 18326.7, "a": 0.00119}, {"n": 10, "f": 20363, "a": 0.00284}, {"n": 11, "f": 22399.3, "a": 0.0021}, {"n": 12, "f": 24435.6, "a": 0.00235},
      {"n": 13, "f": 26471.9, "a": 0.0021}, {"n": 14, "f": 28508.2, "a": 0.00336}, {"n": 15, "f": 30544.5, "a": 0.00099}, {"n": 16, "f": 32580.8, "a": 0.00506},
      {"n": 17, "f": 34617.1, "a": 0.0021}, {"n": 18, "f": 36653.4, "a": 0.00089}, {"n": 19, "f": 38689.7, "a": 0.00081}, {"n": 20, "f": 40726, "a": 0.00235},
      {"n": 21, "f": 42762.3, "a": 0.00069}, {"n": 22, "f": 44798.6, "a": 0.00081}, {"n": 23, "f": 46834.9, "a": 0.00052}, {"n": 24, "f": 48871.2, "a": 0.00131},
      {"n": 25, "f": 50907.5, "a": 0.00081}, {"n": 26, "f": 52943.8, "a": 0.00193}, {"n": 27, "f": 54980.1, "a": 0.00106}, {"n": 28, "f": 57016.4, "a": 0.00081},
      {"n": 29, "f": 59052.7, "a": 0.00044}
    ],
    "scaleTicks": [{"v": 0}, {"v": 0.03}]
  },
  "layer": [
    {
      "layer": [
        {
          "data": {"name": "after"},
          "mark": {"type": "line", "color": "#0c0c80", "strokeWidth": 1.2, "interpolate": "linear"},
          "encoding": {
            "x": {"field": "f", "type": "quantitative", "title": "Frequency in CPM", "scale": {"domain": [0, 60000], "nice": false, "zero": false}, "axis": {"format": "d"}},
            "y": {
              "field": "a", "type": "quantitative",
              "scale": {"domain": [0, 0.062074], "nice": false, "zero": false},
              "axis": {"orient": "left", "title": "PK Velocity in In/Sec", "labels": false, "ticks": false, "domain": false, "grid": false,
                       "titleFont": "Liberation Sans", "titleFontSize": 25.5, "titleFontWeight": "bold", "titleColor": "black",
                       "titleX": -152, "titleY": 419, "titleAngle": 270, "titleAlign": "center", "titleBaseline": "middle"}
            }
          }
        },
        {
          "data": {"name": "orders"},
          "mark": {"type": "point", "shape": "square", "filled": false, "size": 140, "color": "#d8232d", "strokeWidth": 1.5, "opacity": 1},
          "encoding": {
            "x": {"field": "f", "type": "quantitative", "title": "Frequency in CPM", "axis": {"format": "d"}},
            "y": {"field": "a", "type": "quantitative"}
          }
        },
        {
          "data": {"values": [{}]},
          "mark": {"type": "rule", "color": "#e00000", "strokeWidth": 1.5},
          "encoding": {"x": {"datum": 2036.3, "type": "quantitative"}, "y": {"datum": 0.00652, "type": "quantitative"}, "y2": {"datum": -0.002}}
        },
        {
          "data": {"values": [{}]},
          "mark": {"type": "rule", "color": "black", "strokeWidth": 3},
          "encoding": {"x": {"datum": -7152, "type": "quantitative"}, "x2": {"datum": 74348}, "y": {"datum": 0.06704, "type": "quantitative"}}
        },
        {
          "data": {"values": [{}]},
          "mark": {"type": "rule", "color": "black", "strokeWidth": 3},
          "encoding": {"x": {"datum": -7152, "type": "quantitative"}, "y": {"datum": 0.06704, "type": "quantitative"}, "y2": {"datum": -0.0103}}
        },
        {
          "data": {"values": [{}]},
          "mark": {"type": "text", "text": "BALL - 1A BALL MILL DRIVE", "align": "center"},
          "encoding": {"x": {"datum": 30030, "type": "quantitative"}, "y": {"datum": 0.06567, "type": "quantitative"}}
        },
        {
          "data": {"values": [{}]},
          "mark": {"type": "text", "text": "1A BALL \u00a0 -PIA \u00a0 PILLOW, INBOARD, AXIAL", "align": "center"},
          "encoding": {"x": {"datum": 30030, "type": "quantitative"}, "y": {"datum": 0.06342, "type": "quantitative"}}
        },
        {
          "data": {"values": [{}]},
          "mark": {"type": "text", "text": "AFTER PILLOW BLOCK BEARING CHANGE", "align": "left", "fontSize": 22.8, "color": "#7f4b11"},
          "encoding": {"x": {"datum": 25696, "type": "quantitative"}, "y": {"datum": 0.01467, "type": "quantitative"}}
        },
        {
          "data": {"values": [{}]},
          "mark": {"type": "text", "text": "03-Nov-10", "align": "left", "fontSize": 23, "color": "#15157a"},
          "encoding": {"x": {"datum": 60858, "type": "quantitative"}, "y": {"datum": 0.00217, "type": "quantitative"}}
        },
        {
          "data": {"values": [{}]},
          "mark": {"type": "text", "text": "09:40:19", "align": "left", "fontSize": 23, "color": "#15157a"},
          "encoding": {"x": {"datum": 60858, "type": "quantitative"}, "y": {"datum": 0.00039, "type": "quantitative"}}
        },
        {
          "data": {"values": [{}]},
          "mark": {"type": "text", "text": "Freq:", "align": "left", "color": "#e8141c"},
          "encoding": {"x": {"datum": 64926, "type": "quantitative"}, "y": {"datum": -0.00119, "type": "quantitative"}}
        },
        {
          "data": {"values": [{}]},
          "mark": {"type": "text", "text": "Ordr:", "align": "left", "color": "#e8141c"},
          "encoding": {"x": {"datum": 64926, "type": "quantitative"}, "y": {"datum": -0.00333, "type": "quantitative"}}
        },
        {
          "data": {"values": [{}]},
          "mark": {"type": "text", "text": "Sp 1:", "align": "left", "color": "#e8141c"},
          "encoding": {"x": {"datum": 64926, "type": "quantitative"}, "y": {"datum": -0.00548, "type": "quantitative"}}
        },
        {
          "data": {"values": [{}]},
          "mark": {"type": "text", "text": "2036.3", "align": "center", "color": "#e8141c"},
          "encoding": {"x": {"datum": 70087, "type": "quantitative"}, "y": {"datum": -0.00119, "type": "quantitative"}}
        },
        {
          "data": {"values": [{}]},
          "mark": {"type": "text", "text": "8.996", "align": "center", "color": "#e8141c"},
          "encoding": {"x": {"datum": 70087, "type": "quantitative"}, "y": {"datum": -0.00333, "type": "quantitative"}}
        },
        {
          "data": {"values": [{}]},
          "mark": {"type": "text", "text": ".00275", "align": "center", "color": "#e8141c"},
          "encoding": {"x": {"datum": 70087, "type": "quantitative"}, "y": {"datum": -0.00548, "type": "quantitative"}}
        }
      ]
    },
    {
      "layer": [
        {
          "data": {"name": "before"},
          "mark": {"type": "line", "color": "#800080", "strokeWidth": 1, "interpolate": "linear"},
          "encoding": {
            "x": {"field": "f", "type": "quantitative", "title": "Frequency in CPM", "axis": {"format": "d"}},
            "y": {"field": "a", "type": "quantitative", "scale": {"domain": [-0.03, 0.032074], "nice": false, "zero": false}, "axis": null}
          }
        },
        {
          "data": {"values": [{}]},
          "mark": {"type": "rule", "color": "#e00000", "strokeWidth": 1.5},
          "encoding": {"x": {"datum": 2036.3, "type": "quantitative"}, "y": {"datum": 0.03, "type": "quantitative"}, "y2": {"datum": 0.032074}}
        },
        {
          "data": {"values": [{}]},
          "mark": {"type": "text", "text": "BEFORE PILLOW BLOCK BEARING CHANGE", "align": "left", "fontSize": 22.8, "color": "#7f4b11"},
          "encoding": {"x": {"datum": 25525, "type": "quantitative"}, "y": {"datum": 0.01726, "type": "quantitative"}}
        },
        {
          "data": {"values": [{}]},
          "mark": {"type": "text", "text": "28-Sep-10", "align": "left", "fontSize": 23, "color": "#7d157d"},
          "encoding": {"x": {"datum": 60858, "type": "quantitative"}, "y": {"datum": 0.00219, "type": "quantitative"}}
        },
        {
          "data": {"values": [{}]},
          "mark": {"type": "text", "text": "15:40:17", "align": "left", "fontSize": 23, "color": "#7d157d"},
          "encoding": {"x": {"datum": 60858, "type": "quantitative"}, "y": {"datum": 0.00041, "type": "quantitative"}}
        }
      ]
    },
    {
      "layer": [
        {
          "data": {"name": "scaleTicks"},
          "mark": {"type": "rule", "color": "black", "strokeWidth": 1.5},
          "encoding": {
            "x": {"datum": -1150, "type": "quantitative"},
            "x2": {"datum": -500},
            "y": {"field": "v", "type": "quantitative", "scale": {"domain": [-0.016074, 0.046], "nice": false, "zero": false}, "axis": null}
          }
        },
        {
          "data": {"values": [{}]},
          "mark": {"type": "rule", "color": "black", "strokeWidth": 1.5},
          "encoding": {"x": {"datum": -850, "type": "quantitative"}, "y": {"datum": 0, "type": "quantitative"}, "y2": {"datum": 0.03}}
        },
        {
          "data": {"values": [{}]},
          "mark": {"type": "text", "text": "0.030", "align": "right"},
          "encoding": {"x": {"datum": -1542, "type": "quantitative"}, "y": {"datum": 0.03, "type": "quantitative"}}
        },
        {
          "data": {"values": [{}]},
          "mark": {"type": "text", "text": "0", "align": "right", "dy": -11},
          "encoding": {"x": {"datum": -1799, "type": "quantitative"}, "y": {"datum": 0, "type": "quantitative"}}
        },
        {
          "data": {"values": [{}]},
          "mark": {"type": "text", "text": "Max Amp", "align": "left"},
          "encoding": {"x": {"datum": -4968, "type": "quantitative"}, "y": {"datum": 0.04126, "type": "quantitative"}}
        },
        {
          "data": {"values": [{}]},
          "mark": {"type": "text", "text": ".0255", "align": "left"},
          "encoding": {"x": {"datum": -4797, "type": "quantitative"}, "y": {"datum": 0.03922, "type": "quantitative"}}
        },
        {
          "data": {"values": [{}]},
          "mark": {"type": "text", "text": "Plot", "align": "left"},
          "encoding": {"x": {"datum": -3812, "type": "quantitative"}, "y": {"datum": 0.03504, "type": "quantitative"}}
        },
        {
          "data": {"values": [{}]},
          "mark": {"type": "text", "text": "Scale", "align": "left"},
          "encoding": {"x": {"datum": -3854, "type": "quantitative"}, "y": {"datum": 0.03296, "type": "quantitative"}}
        }
      ]
    }
  ],
  "resolve": {"scale": {"y": "independent"}}
}
